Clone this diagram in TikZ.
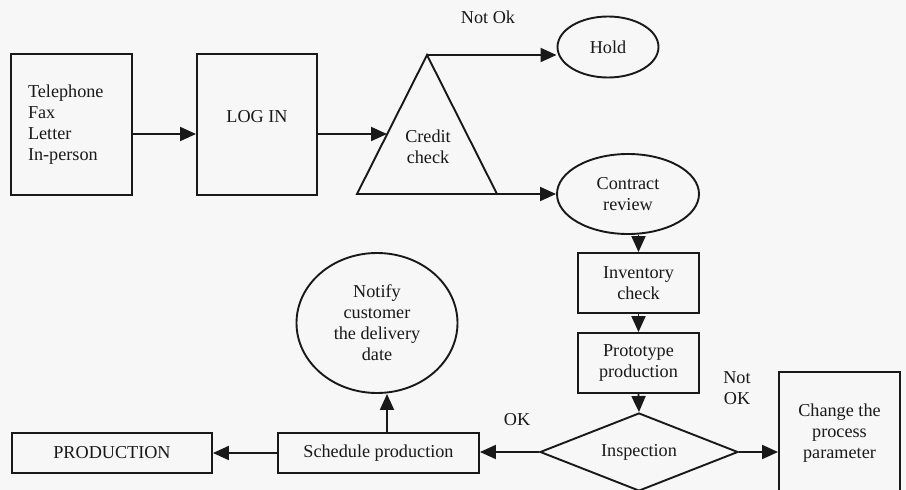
\documentclass[tikz,border=0pt]{standalone}
\usepackage{fontspec}
\setmainfont{Liberation Serif}
\usetikzlibrary{arrows.meta,shapes.geometric}

\tikzset{
  txt/.style={font=\fontsize{18.2}{21}\selectfont},
  lbl/.style={txt, align=center, inner sep=0pt},
  box/.style={draw, rectangle, line width=1.9pt, inner sep=0pt, txt, align=center},
  oval/.style={draw, ellipse, line width=1.9pt, inner sep=0pt, txt, align=center},
  decide/.style={draw, diamond, line width=1.9pt, inner sep=0pt, aspect=2.5, txt},
  arr/.style={line width=1.9pt, -{Triangle[length=16pt,width=14pt]}},
  plain/.style={line width=1.9pt}
}

\begin{document}
\begin{tikzpicture}[x=1pt,y=-1pt, color={black!90}]
  \fill[white!97!black] (0,0) rectangle (906,490);
  \useasboundingbox (0,0) rectangle (906,490);
  \clip (0,0) rectangle (906,490);

  % order channels and log in
  \node[box, minimum width=121pt, minimum height=141pt, text width=87pt, align=left]
    (src) at (71.5,124.5) {\rule{0pt}{9pt}Telephone\\Fax\\Letter\\In-person};
  \node[box, minimum width=120pt, minimum height=141pt] (login) at (257,124.5) {};
  \node[lbl] (logintxt) at (257,117) {LOG IN};

  % credit check triangle
  \coordinate (apex)  at (427,55);
  \coordinate (baseL) at (357,194);
  \coordinate (baseR) at (497,194);
  \draw[plain, line join=miter] (apex) -- (baseL) -- (baseR) -- cycle;
  \node[lbl] (credit) at (428,147) {Credit\\check};
  \coordinate (credin) at (387,134);

  % outcomes of the credit check
  \node[oval, minimum width=101pt, minimum height=61pt] (hold) at (608,47) {Hold};
  \node[lbl] (notok1) at (488,17) {Not Ok};
  \node[oval, minimum width=142pt, minimum height=80pt] (contract) at (628,194) {Contract\\review};

  % processing chain
  \node[box, minimum width=121pt, minimum height=60pt] (inv)   at (638.5,283) {Inventory\\check};
  \node[box, minimum width=121pt, minimum height=60pt] (proto) at (638.5,363) {Prototype\\production};
  \node[decide, minimum width=198pt, minimum height=78pt] (insp) at (639,452) {Inspection};
  \node[box, minimum width=121pt, minimum height=122pt] (change) at (839.5,433)
    {Change the\\process\\parameter};
  \node[lbl] (notok2) at (737,388) {Not\\OK};
  \node[lbl] (ok) at (517,420) {OK};

  \node[box, minimum width=201pt, minimum height=40pt] (sched) at (378.5,453) {Schedule production};
  \node[box, minimum width=200pt, minimum height=40pt] (prod)  at (112,453) {PRODUCTION};
  \node[oval, minimum width=161pt, minimum height=140pt] (notify) at (377,323)
    {Notify\\customer\\the delivery\\date};

  % connectors
  \coordinate (row) at (0,134);
  \draw[arr] (src.east |- row) -- (login.west |- row);
  \draw[arr] (login.east |- row) -- (credin);
  \draw[arr] (apex) -- (apex -| hold.west);
  \draw[arr] (baseR) -- (contract.west);
  \draw[arr] (inv.north |- contract.south) -- (inv.north);
  \draw[arr] (inv.south) -- (proto.north);
  \draw[arr] (proto.south) -- (insp.north);
  \draw[arr] (insp.east) -- (change.west |- insp.east);
  \draw[arr] (insp.west) -- (sched.east |- insp.west);
  \draw[arr] (sched.west) -- (prod.east);
  \draw[arr] ([xshift=8.5pt]sched.north) -- ([xshift=8.5pt]sched.north |- notify.south);
\end{tikzpicture}
\end{document}
